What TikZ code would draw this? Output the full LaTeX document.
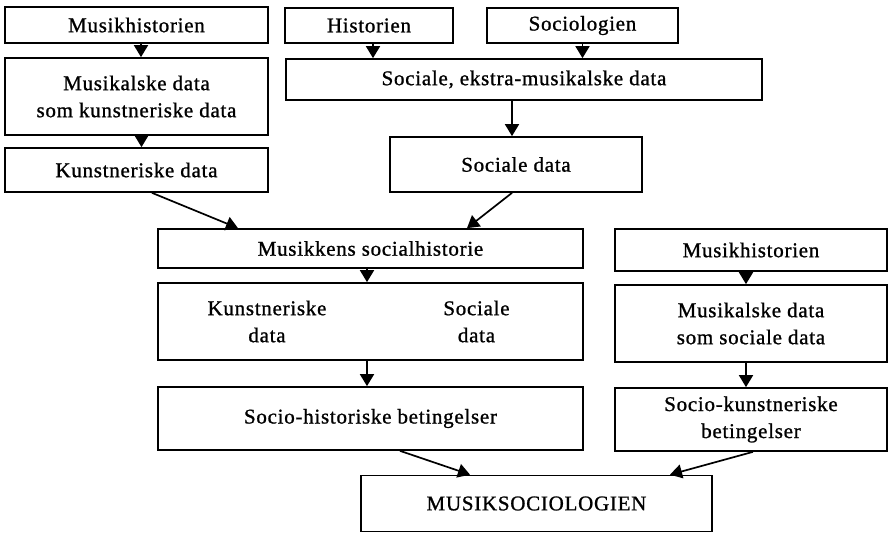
\documentclass[tikz,border=0pt]{standalone}
\usepackage{fontspec}
\setmainfont{Liberation Serif}[LetterSpace=3.5, FakeBold=1.0]
\usetikzlibrary{arrows.meta}
\tikzset{
  box/.style={draw=black, line width=1.7pt, inner sep=0pt, align=center,
    font=\fontsize{21}{27}\selectfont},
  txt/.style={inner sep=0pt, align=center, font=\fontsize{21}{27}\selectfont},
  arr/.style={draw=black, line width=1.7pt,
    -{Triangle[width=14pt,length=12pt]}}
}
\begin{document}
\begin{tikzpicture}[x=1pt,y=-1pt]
\useasboundingbox (0,0) rectangle (895,533);
% left column
\node[box, minimum width=263pt, minimum height=36pt] (mh1) at (136.5,25) {Musikhistorien};
\node[box, minimum width=263pt, minimum height=77pt] (mkd) at (136.5,96.5) {Musikalske data\\som kunstneriske data};
\node[box, minimum width=263pt, minimum height=44pt] (kd) at (136.5,170) {Kunstneriske data};
% top middle/right
\node[box, minimum width=168pt, minimum height=35pt] (hist) at (369,25.5) {Historien};
\node[box, minimum width=191pt, minimum height=35pt] (soc) at (582.5,25.5) {Sociologien};
\node[box, minimum width=476pt, minimum height=41pt] (sed) at (524,79.5) {Sociale, ekstra-musikalske data};
\node[box, minimum width=252pt, minimum height=55pt] (sd) at (516,164.5) {Sociale data};
% middle column
\node[box, minimum width=425pt, minimum height=39pt] (ms) at (370.5,248.5) {Musikkens socialhistorie};
\node[box, minimum width=425pt, minimum height=77pt] (ksd) at (370.5,321.5) {};
\node[txt] (ksdA) at ([xshift=-103.5pt]ksd.center) {Kunstneriske\\data};
\node[txt] (ksdB) at ([xshift=106pt]ksd.center) {Sociale\\data};
\node[box, minimum width=425pt, minimum height=63pt] (shb) at (370.5,418.5) {Socio-historiske betingelser};
% right column
\node[box, minimum width=272pt, minimum height=42pt] (mh2) at (751,250) {Musikhistorien};
\node[box, minimum width=272pt, minimum height=77pt] (mss) at (751,323.5) {Musikalske data\\som sociale data};
\node[box, minimum width=272pt, minimum height=63pt] (skb) at (751,419.5) {Socio-kunstneriske\\betingelser};
% bottom
\node[box, minimum width=351pt, minimum height=56pt] (msoc) at (536.5,503.5) {MUSIKSOCIOLOGIEN};
% arrows
\draw[arr] ([xshift=4.5pt]mh1.south) -- ([xshift=4.5pt]mkd.north);
\draw[arr] ([xshift=5pt]mkd.south) -- ([xshift=5pt]kd.north);
\draw[arr] ([xshift=4pt]hist.south) -- ([xshift=4pt]hist.south |- sed.north);
\draw[arr] (soc.south) -- (soc.south |- sed.north);
\draw[arr] ([xshift=-12pt]sed.south) -- ([xshift=-4pt]sd.north);
\draw[arr] ([xshift=15.5pt]kd.south) -- ([xshift=-132.5pt]ms.north);
\draw[arr] ([xshift=-4pt]sd.south) -- ([xshift=96.5pt]ms.north);
\draw[arr] ([xshift=-3.5pt]ms.south) -- ([xshift=-3.5pt]ksd.north);
\draw[arr] ([xshift=-3.5pt]ksd.south) -- ([xshift=-3.5pt]shb.north);
\draw[arr] ([xshift=-5pt]mh2.south) -- ([xshift=-5pt]mss.north);
\draw[arr] ([xshift=-5pt]mss.south) -- ([xshift=-5pt]skb.north);
\draw[arr] ([xshift=29.5pt]shb.south) -- ([xshift=-66.5pt]msoc.north);
\draw[arr] ([xshift=2pt]skb.south) -- ([xshift=133.5pt]msoc.north);
\end{tikzpicture}
\end{document}
